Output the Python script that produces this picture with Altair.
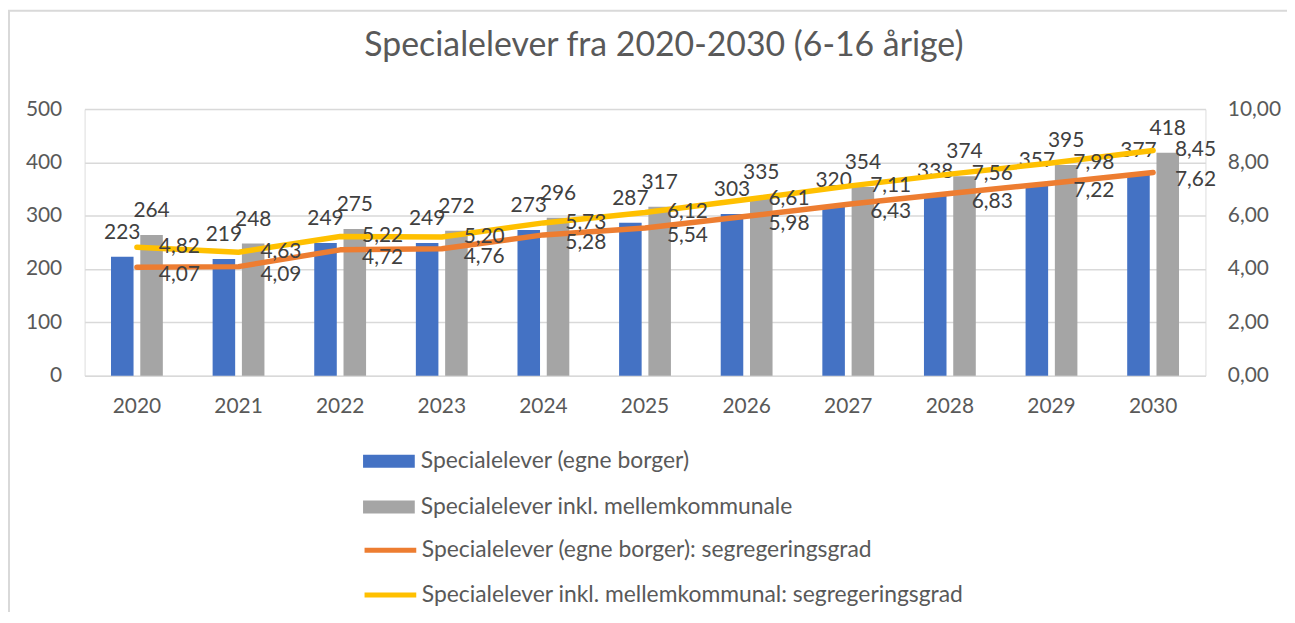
import altair as alt
import pandas as pd

years = ["2020", "2021", "2022", "2023", "2024", "2025", "2026", "2027", "2028", "2029", "2030"]
egne = [223, 219, 249, 249, 273, 287, 303, 320, 338, 357, 377]
inkl = [264, 248, 275, 272, 296, 317, 335, 354, 374, 395, 418]
egne_grad = [4.07, 4.09, 4.72, 4.76, 5.28, 5.54, 5.98, 6.43, 6.83, 7.22, 7.62]
inkl_grad = [4.82, 4.63, 5.22, 5.20, 5.73, 6.12, 6.61, 7.11, 7.56, 7.98, 8.45]

bar_series = ["Specialelever (egne borger)", "Specialelever inkl. mellemkommunale"]
line_series = ["Specialelever (egne borger): segregeringsgrad",
               "Specialelever inkl. mellemkommunal: segregeringsgrad"]

bars_df = pd.DataFrame({
    "year": years * 2,
    "series": [bar_series[0]] * len(years) + [bar_series[1]] * len(years),
    "value": egne + inkl,
})
lines_df = pd.DataFrame({
    "year": years * 2,
    "series": [line_series[0]] * len(years) + [line_series[1]] * len(years),
    "rate": egne_grad + inkl_grad,
})

FONT = "Lato"
TXT = "#595959"
LBL = "#404040"
FS = 21
LFS = 23

X = alt.X("year:N", sort=years, title=None,
          scale=alt.Scale(paddingInner=0.49, paddingOuter=0.26),
          axis=alt.Axis(labelAngle=0, ticks=False, domain=False, labelPadding=20,
                        labelFontSize=FS, labelColor=TXT, labelFont=FONT))
XO = alt.XOffset("series:N", sort=bar_series, scale=alt.Scale(paddingInner=0.23))
Y_left = alt.Y("value:Q", title=None,
               scale=alt.Scale(domain=[0, 500]),
               axis=alt.Axis(values=[0, 100, 200, 300, 400, 500], domain=False, ticks=False,
                             labelPadding=23, labelFontSize=FS, labelColor=TXT, labelFont=FONT,
                             grid=True, gridColor="#D9D9D9", gridWidth=1.5))
Y_right = alt.Y("rate:Q", title=None,
                scale=alt.Scale(domain=[0, 10]),
                axis=alt.Axis(orient="right", values=[0, 2, 4, 6, 8, 10], domain=False, ticks=False,
                              labelPadding=22, labelFontSize=FS, labelColor=TXT, labelFont=FONT,
                              grid=False,
                              labelExpr="replace(format(datum.value, '.2f'), '.', ',')"))

bar_color = alt.Color("series:N", sort=bar_series,
                      scale=alt.Scale(domain=bar_series, range=["#4472C4", "#A5A5A5"]),
                      legend=alt.Legend(orient="none", legendX=280, legendY=328, title=None,
                                        symbolType="M-1,-0.25H1V0.25H-1Z", symbolSize=2704,
                                        symbolStrokeWidth=0,
                                        labelFontSize=LFS, labelColor=TXT, labelFont=FONT,
                                        labelLimit=0, labelOffset=6, rowPadding=8, padding=0))
line_color = alt.Stroke("series:N", sort=line_series,
                        scale=alt.Scale(domain=line_series, range=["#ED7D31", "#FFC000"]),
                        legend=alt.Legend(orient="none", legendX=279, legendY=415, title=None,
                                          symbolType="stroke", symbolSize=2704,
                                          symbolStrokeWidth=5,
                                          labelFontSize=LFS, labelColor=TXT, labelFont=FONT,
                                          labelLimit=0, labelOffset=3, rowPadding=4, padding=0))

bars = alt.Chart(bars_df).mark_bar().encode(x=X, xOffset=XO, y=Y_left, color=bar_color)
bar_text = alt.Chart(bars_df).mark_text(dy=-24, baseline="middle", align="center",
                                        fontSize=FS, font=FONT, color=LBL).encode(
    x=X, xOffset=XO, y=Y_left, text=alt.Text("value:Q"))

lines = alt.Chart(lines_df).mark_line(strokeWidth=5.5, strokeCap="round", strokeJoin="round").encode(
    x=X, y=Y_right, stroke=line_color)

lab_expr = "replace(format(datum.rate, '.2f'), '.', ',')"
line_text_own = alt.Chart(lines_df).transform_filter(
    alt.datum.series == line_series[0]).transform_calculate(lab=lab_expr).mark_text(
    align="left", baseline="middle", dx=22, dy=8, fontSize=FS, font=FONT, color=LBL).encode(
    x=X, y=Y_right, text="lab:N")
line_text_inkl = alt.Chart(lines_df).transform_filter(
    alt.datum.series == line_series[1]).transform_calculate(lab=lab_expr).mark_text(
    align="left", baseline="middle", dx=22, dy=0, fontSize=FS, font=FONT, color=LBL).encode(
    x=X, y=Y_right, text="lab:N")

border = alt.Chart(alt.Data(values=[{"b": 1}])).mark_rect(
    fill="transparent", stroke="#D9D9D9", strokeWidth=2).encode(
    x=alt.value(-76), x2=alt.value(1300), y=alt.value(-99), y2=alt.value(700))

left = alt.layer(bars, bar_text)
right = alt.layer(lines, line_text_own, line_text_inkl)

chart = alt.layer(border, left, right).resolve_scale(y="independent").properties(
    width=1127, height=268,
    autosize=alt.AutoSizeParams(type="none"),
    padding={"left": 77, "top": 100, "right": 82, "bottom": 236},
    title=alt.TitleParams("Specialelever fra 2020-2030 (6-16 årige)", fontSize=34, font=FONT,
                          color=TXT, fontWeight="normal", anchor="middle", baseline="alphabetic",
                          frame="group", offset=-81, dx=19),
).configure_view(stroke=None).configure(background="white")

chart.save("out.html", embed_options={"renderer": "svg", "actions": False})
